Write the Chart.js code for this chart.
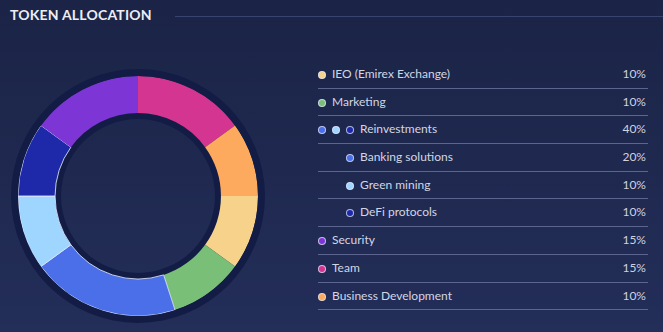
<!DOCTYPE html>
<html>
<head>
<meta charset="utf-8">
<script src="https://cdn.jsdelivr.net/npm/chart.js@4"></script>
<style>
  html, body { margin: 0; padding: 0; }
  body {
    width: 663px; height: 332px; overflow: hidden; position: relative;
    background: linear-gradient(to bottom, #1b2446 0%, #232e59 100%);
    font-family: Lato, "Noto Sans", sans-serif;
  }
  .title {
    position: absolute; left: 10px; top: 6px;
    color: #eceef4; font-size: 14px; font-weight: 700; letter-spacing: 0.2px;
  }
  .rule { position: absolute; left: 175px; right: 0; top: 16px; height: 1px; background: #384470; }
  #wrap { position: absolute; left: 10px; top: 68px; width: 256px; height: 256px; }
  #legend { position: absolute; left: 318px; top: 61px; width: 330px; }
  .row {
    position: relative; height: 26.7px; border-bottom: 1px solid #5b6590;
    color: #d2d6e4; font-size: 12px; line-height: 26.7px;
  }
  .dot {
    position: absolute; top: 10px; width: 6px; height: 6px; border-radius: 50%;
    border: 1px solid rgba(225,230,250,0.75);
  }
  .label { position: absolute; top: 0; }
  .pct { position: absolute; right: 2px; top: 0; color: #cfd3e0; }
</style>
</head>
<body>
<div class="title">TOKEN ALLOCATION</div>
<div class="rule"></div>
<div id="wrap"><canvas id="donut" width="256" height="256"></canvas></div>
<div id="legend"></div>
<script>
// slices, clockwise from the top
const sliceLabels = ['Team', 'Business Development', 'IEO (Emirex Exchange)', 'Marketing',
  'Banking solutions', 'Green mining', 'DeFi protocols', 'Security'];
const sliceValues = [15, 10, 10, 10, 20, 10, 10, 15];
const sliceColors = ['#d43590', '#fdaa5f', '#f6d28a', '#7abf78', '#4a6fe9', '#9fd6ff', '#1e29a9', '#7e35d6'];
const sliceBorders = [0, 0, 0, 0, 1, 1, 1, 0];

// legend list
const legendLabels = ['IEO (Emirex Exchange)', 'Marketing', 'Reinvestments', 'Banking solutions',
  'Green mining', 'DeFi protocols', 'Security', 'Team', 'Business Development'];
const legendValues = ['10%', '10%', '40%', '20%', '10%', '10%', '15%', '15%', '10%'];
const legendIndent = [0, 0, 0, 1, 1, 1, 0, 0, 0];
const legendDots = [[2], [3], [4, 5, 6], [4], [5], [6], [7], [0], [1]];

const ringDark = '#131c45';

const legend = document.getElementById('legend');
legendLabels.forEach((name, i) => {
    const row = document.createElement('div');
    row.className = 'row';
    let x = legendIndent[i] ? 31 : 3;
    legendDots[i].forEach((c, k) => {
        const d = document.createElement('span');
        d.className = 'dot';
        d.style.left = (x - 3 + k * 14) + 'px';
        d.style.background = sliceColors[c];
        row.appendChild(d);
    });
    const lab = document.createElement('span');
    lab.className = 'label';
    lab.style.left = (legendDots[i].length > 1 || legendIndent[i] ? 42 : 14) + 'px';
    lab.textContent = name;
    row.appendChild(lab);
    const pct = document.createElement('span');
    pct.className = 'pct';
    pct.textContent = legendValues[i];
    row.appendChild(pct);
    legend.appendChild(row);
});

new Chart(document.getElementById('donut'), {
    type: 'doughnut',
    data: {
        labels: sliceLabels,
        datasets: [
            { data: [1], backgroundColor: [ringDark], borderWidth: 0, weight: 7 },
            {
                data: sliceValues,
                backgroundColor: sliceColors,
                borderColor: 'rgba(225,232,255,0.85)',
                borderWidth: sliceBorders,
                weight: 37
            },
            { data: [1], backgroundColor: [ringDark], borderWidth: 0, weight: 6 }
        ]
    },
    options: {
        responsive: false,
        animation: false,
        radius: 127,
        cutout: '60.6%',
        events: [],
        plugins: { legend: { display: false }, tooltip: { enabled: false } }
    }
});
</script>
</body>
</html>
